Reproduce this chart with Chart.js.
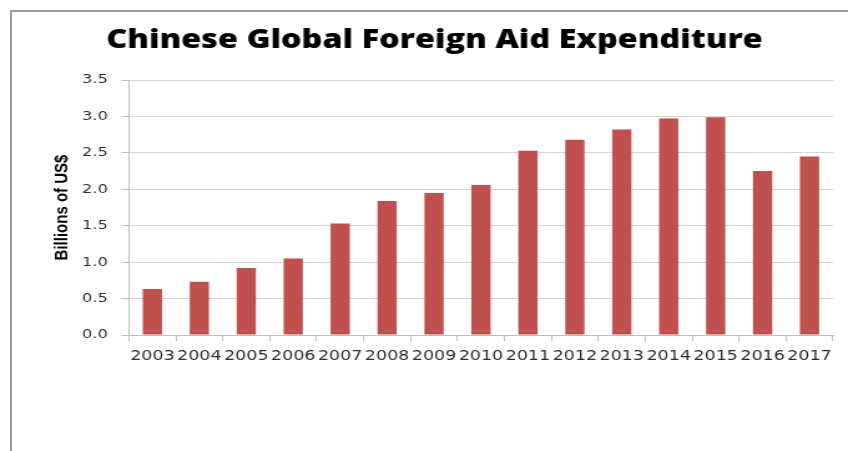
<!DOCTYPE html>
<html>
<head>
<meta charset="utf-8">
<title>Chinese Global Foreign Aid Expenditure</title>
<script src="https://cdn.jsdelivr.net/npm/chart.js@4.4.0/dist/chart.umd.min.js"></script>
<style>
  html, body { margin: 0; padding: 0; background: #fff; }
  #page { position: relative; width: 848px; height: 451px; overflow: hidden; }
  #frame { position: absolute; left: 10px; top: 10px; width: 860px; height: 460px;
           border-top: 2px solid #9a9a9a; border-left: 2px solid #9a9a9a; }
  #wrap { position: absolute; left: 0; top: 0; width: 680px; height: 451px;
          transform: scaleX(1.247); transform-origin: 0 0; }
</style>
</head>
<body>
<div id="page">
  <div id="frame"></div>
  <div id="wrap"><canvas id="aidChart"></canvas></div>
</div>
<script>
var years = ["2003", "2004", "2005", "2006", "2007", "2008", "2009", "2010",
             "2011", "2012", "2013", "2014", "2015", "2016", "2017"];
var aidBillions = [0.63, 0.73, 0.92, 1.05, 1.53, 1.84, 1.95, 2.06,
                   2.53, 2.68, 2.82, 2.97, 2.99, 2.25, 2.45];
var yTicks = [0, 0.5, 1.0, 1.5, 2.0, 2.5, 3.0, 3.5];

var ctx = document.getElementById("aidChart").getContext("2d");

var aidChart = new Chart(ctx, {
  type: "bar",
  data: {
    labels: years,
    datasets: [
      {
        label: "Billions of US$",
        data: aidBillions,
        backgroundColor: "#c0504d",
        barPercentage: 0.41,
        categoryPercentage: 1.0,
      },
    ],
  },
  options: {
    responsive: true,
    maintainAspectRatio: false,
    animation: false,
    devicePixelRatio: 1,
    layout: {
      padding: { left: 28.8, right: 12, top: 0, bottom: 0 },
    },
    plugins: {
      legend: { display: false },
      tooltip: { enabled: false },
      title: {
        display: true,
        text: "Chinese Global Foreign Aid Expenditure",
        color: "#000",
        font: { family: "'Open Sans'", weight: 800, size: 26 },
        padding: { top: 24.6, bottom: 24.2 },
      },
    },
    scales: {
      x: {
        afterFit: function (scale) { scale.height = 116; },
        grid: {
          display: true,
          drawOnChartArea: false,
          offset: true,
          tickLength: 6,
          color: "#bfbfbf",
        },
        border: { color: "#bfbfbf", width: 1 },
        ticks: {
          color: "#2b2b2b",
          padding: 7,
          maxRotation: 0,
          autoSkip: false,
          font: { family: "'DejaVu Sans'", size: 14 },
        },
      },
      y: {
        min: yTicks[0],
        max: yTicks[yTicks.length - 1],
        afterFit: function (scale) { scale.width = 74.6; },
        afterBuildTicks: function (scale) {
          scale.ticks = yTicks.map(function (v) { return { value: v }; });
        },
        grid: {
          color: "#d4d4d4",
          tickColor: "#bfbfbf",
          tickLength: 6,
        },
        border: { color: "#bfbfbf", width: 1 },
        ticks: {
          color: "#2b2b2b",
          padding: 11,
          font: { family: "'DejaVu Sans'", size: 13 },
          callback: function (value) { return Number(value).toFixed(1); },
        },
        title: {
          display: true,
          text: "Billions of US$",
          color: "#000",
          font: { family: "'Liberation Sans Narrow', 'Liberation Sans'", weight: "bold", size: 15 },
          padding: { top: 12, bottom: 0 },
        },
      },
    },
  },
});
</script>
</body>
</html>
